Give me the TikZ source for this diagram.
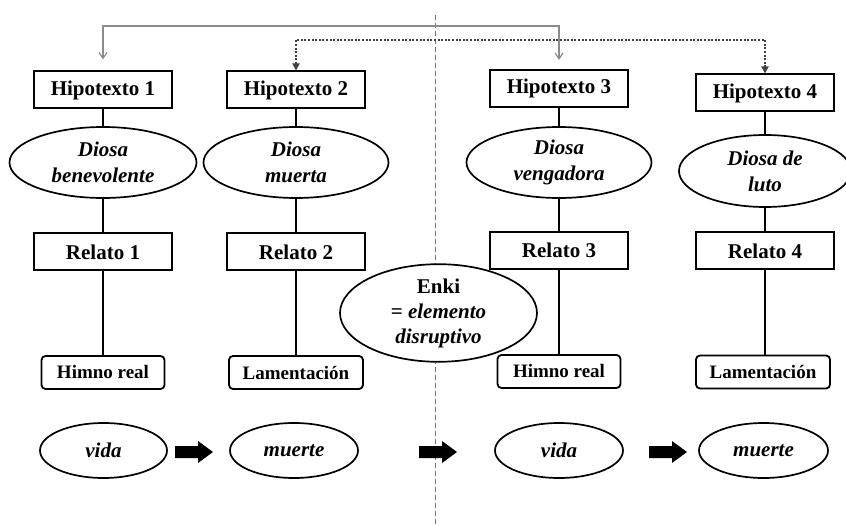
\documentclass[tikz,border=0pt]{standalone}
\usepackage{fontspec}
\setmainfont{Liberation Serif}
\usetikzlibrary{shapes.geometric,arrows.meta,calc}
\definecolor{linkgray}{HTML}{8C8C8C}
\definecolor{dotgray}{HTML}{404040}
\definecolor{sepgray}{HTML}{707070}
\begin{document}
\begin{tikzpicture}[x=1pt,y=-1pt,
  hbox/.style={draw,line width=2pt,fill=white,minimum width=138pt,minimum height=37pt,inner sep=0pt,
    font=\fontsize{21}{25}\selectfont\bfseries},
  oval/.style={draw,ellipse,line width=1.7pt,fill=white,inner sep=0pt,align=center,
    font=\fontsize{21}{26}\selectfont\bfseries\itshape},
  rbox/.style={draw,rounded corners=4pt,line width=1.8pt,fill=white,minimum height=33pt,inner sep=0pt,
    font=\fontsize{19}{23}\selectfont\bfseries},
  link/.style={line width=1.9pt},
  toplink/.style={line width=1.2pt,draw=linkgray,{Straight Barb[length=6pt,width=8pt]}-{Straight Barb[length=6pt,width=8pt]}},
  dotlink/.style={line width=2pt,draw=dotgray,dash pattern=on 2pt off 1.6pt,{Triangle[length=7pt,width=7pt]}-{Triangle[length=7pt,width=7pt]}},
  blockarrow/.style={fill=black}
]
\useasboundingbox (0,0) rectangle (846,526);

% separator
\coordinate (sepTop) at (435,15);
\coordinate (sepBot) at (435,526);
\draw[sepgray,line width=0.8pt,dash pattern=on 5pt off 3pt] (sepTop) -- (sepBot);

% top row
\node[hbox] (h1) at (103,90) {Hipotexto 1};
\node[hbox] (h2) at (296,90) {Hipotexto 2};
\node[hbox] (h3) at (559,88.5) {Hipotexto 3};
\node[hbox] (h4) at (765,93) {Hipotexto 4};

% goddess ellipses
\node[oval,minimum width=187pt,minimum height=71pt] (d1) at (103,162.5) {Diosa\\benevolente};
\node[oval,minimum width=185pt,minimum height=71pt] (d2) at (296,162.5) {Diosa\\muerta};
\node[oval,minimum width=185pt,minimum height=71pt] (d3) at (559,162.5) {Diosa\\vengadora};
\node[oval,minimum width=172pt,minimum height=72pt] (d4) at (765,171) {Diosa de\\luto};

% relato boxes
\node[hbox] (r1) at (103,252) {Relato 1};
\node[hbox] (r2) at (296,252) {Relato 2};
\node[hbox] (r3) at (559,250.5) {Relato 3};
\node[hbox] (r4) at (765,251) {Relato 4};

% genre boxes
\node[rbox,minimum width=123pt] (g1) at (103,372.5) {Himno real};
\node[rbox,minimum width=134pt] (g2) at (296,372.5) {Lamentación};
\node[rbox,minimum width=123pt] (g3) at (559,371.5) {Himno real};
\node[rbox,minimum width=134pt] (g4) at (763,372) {Lamentación};

% Enki
\node[oval,minimum width=197pt,minimum height=90pt,font=\fontsize{21}{25}\selectfont\bfseries] (enki) at (438.5,313)
  {Enki\\= \textit{elemento}\\\textit{disruptivo}};

% vertical links
\foreach \c in {1,2,3,4}{
  \draw[link] (h\c) -- (d\c);
  \draw[link] (d\c) -- (r\c);
  \draw[link] (r\c) -- (r\c |- g\c.north);
}

% top connectors
\coordinate (ty1) at (0,26);
\coordinate (ty2) at (0,40);
\draw[toplink] ([yshift=11pt]h1.north) -- (h1.north |- ty1) -- (h3.north |- ty1) -- ([yshift=9pt]h3.north);
\draw[dotlink] (h2.north) -- (h2.north |- ty2) -- (h4.north |- ty2) -- (h4.north);

% bottom row
\node[oval,minimum width=127pt,minimum height=55pt] (v1) at (103.5,450.5) {vida};
\node[oval,minimum width=128pt,minimum height=55pt] (m1) at (294,450.5) {muerte};
\node[oval,minimum width=128pt,minimum height=55pt] (v2) at (559,450.5) {vida};
\node[oval,minimum width=129pt,minimum height=55pt] (m2) at (763.5,450.5) {muerte};

% block arrows
\coordinate (a1) at (175,452);
\coordinate (a2) at (419,452);
\coordinate (a3) at (649,452);
\foreach \a in {a1,a2,a3}{
  \fill[blockarrow] (\a) ++(0,-6) -- ++(23,0) -- ++(0,-5) -- ++(15,11) -- ++(-15,11) -- ++(0,-5) -- ++(-23,0) -- cycle;
}
\end{tikzpicture}
\end{document}
